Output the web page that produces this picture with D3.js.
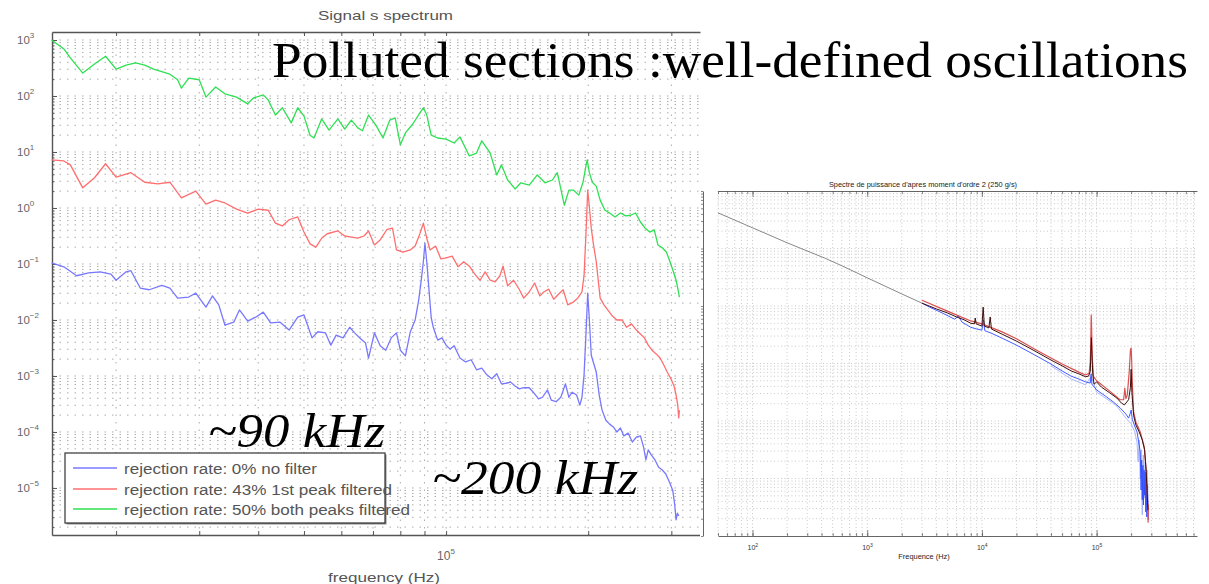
<!DOCTYPE html>
<html>
<head>
<meta charset="utf-8">
<script src="https://cdn.jsdelivr.net/npm/d3@7"></script>
<style>
  body { margin: 0; background: #fff; }
  svg { display: block; }
</style>
</head>
<body>
<svg id="slide" width="1209" height="584"></svg>
<script>
// ---------- left chart data (frequency in kHz, spectrum as log10 exponent) ----------
const greenKHz = [14.6, 15.5, 16, 17, 18, 19, 20, 21, 22, 23, 24, 26, 27, 27.5, 28.5, 30, 31, 32.5, 34, 36, 38, 39, 41, 42, 43.5, 45, 47, 48.5, 50, 51.5, 52.5, 54.5, 56.5, 59, 61, 63, 65, 66.5, 68.5, 71, 73.5, 76, 78, 80, 82, 85, 88, 89.5, 91, 93, 96, 100, 104, 107, 112, 116, 119, 124, 128, 131, 135, 140, 144, 150, 156, 162, 168, 172, 178, 182, 186, 191, 195, 198, 199, 201, 204, 208, 212, 217, 222, 228, 234, 240, 246, 252, 258, 264, 270, 276, 281, 287, 293, 298, 303, 307, 310, 312];
const greenExp = [3.00, 2.84, 2.68, 2.41, 2.57, 2.71, 2.48, 2.55, 2.59, 2.55, 2.48, 2.39, 2.29, 2.14, 2.32, 2.29, 1.98, 2.16, 2.04, 1.98, 1.86, 1.96, 2.02, 1.93, 1.66, 1.79, 1.52, 1.79, 1.64, 1.30, 1.25, 1.59, 1.39, 1.59, 1.41, 1.57, 1.43, 1.38, 1.66, 1.48, 1.25, 1.57, 1.61, 1.13, 1.34, 1.50, 1.70, 1.79, 1.66, 1.30, 1.25, 1.23, 1.16, 1.27, 0.93, 0.98, 1.20, 0.98, 0.59, 0.77, 0.50, 0.34, 0.45, 0.41, 0.59, 0.45, 0.50, 0.63, 0.05, 0.32, 0.32, 0.23, 0.46, 0.77, 0.86, 0.64, 0.46, 0.39, 0.14, -0.04, -0.09, -0.16, -0.09, -0.14, -0.13, -0.09, -0.25, -0.36, -0.43, -0.39, -0.66, -0.71, -0.79, -0.96, -1.14, -1.29, -1.46, -1.59];

const redKHz = [14.6, 15.5, 16, 17, 18, 19, 20, 21.5, 23, 24.5, 26, 27.5, 29.5, 31, 32.5, 34, 36, 38, 40, 42, 43.5, 45, 46.5, 48.5, 50, 51.5, 53, 54.5, 56, 59, 61, 63, 65, 67, 68.5, 70.5, 72.5, 75, 77, 78.5, 81, 84, 86, 88, 89.5, 91, 92.5, 95, 97.5, 100, 103, 106, 109, 112, 115, 118, 121, 124, 127, 130, 132, 135, 139, 143, 146, 150, 154, 158, 161, 165, 169, 173, 177, 181, 186, 190, 194, 196, 198, 199.5, 201, 203, 205, 208, 212, 216, 220, 225, 230, 236, 241, 247, 253, 258, 263, 268, 273, 279, 284, 289, 294, 299, 304, 307, 309.5, 311, 312];
const redExp = [0.86, 0.84, 0.77, 0.36, 0.54, 0.79, 0.55, 0.63, 0.46, 0.43, 0.46, 0.18, 0.30, 0.07, 0.14, 0.09, -0.02, -0.09, -0.02, -0.04, -0.27, -0.32, -0.21, -0.16, -0.43, -0.64, -0.70, -0.54, -0.46, -0.41, -0.50, -0.52, -0.54, -0.50, -0.41, -0.66, -0.57, -0.38, -0.36, -0.75, -0.79, -0.75, -0.68, -0.46, -0.27, -0.54, -0.75, -0.68, -0.91, -0.89, -0.86, -1.05, -0.96, -1.04, -1.18, -1.29, -1.14, -1.29, -1.32, -1.21, -1.04, -1.39, -1.29, -1.46, -1.61, -1.50, -1.34, -1.57, -1.50, -1.45, -1.63, -1.54, -1.46, -1.73, -1.68, -1.61, -1.50, -1.20, -0.39, 0.32, 0.05, -0.36, -0.63, -0.96, -1.61, -1.73, -1.82, -1.93, -2.00, -2.00, -2.13, -2.07, -2.18, -2.25, -2.32, -2.45, -2.54, -2.61, -2.68, -2.80, -2.93, -3.04, -3.18, -3.34, -3.52, -3.75, -3.61];

const blueKHz = [14.6, 15.5, 16.5, 17.5, 18.5, 19.5, 20, 21, 21.5, 22.5, 23.5, 25, 26, 27, 28.5, 29.5, 31, 32, 33, 34, 35.5, 36.5, 38, 39.5, 41, 42.5, 44.5, 46.5, 48.5, 50, 52, 53.5, 55.5, 57, 58.5, 60.5, 62.5, 64, 66, 67.5, 68.5, 70.5, 72.5, 74.5, 76.5, 78.5, 80, 82, 84, 86, 87.5, 88.5, 89.5, 90.2, 91, 92, 93, 94, 96, 98, 100, 102, 104, 107, 110, 113, 116, 119, 122, 125, 128, 131, 134, 137, 140, 143, 146, 150, 153, 157, 160, 164, 167, 171, 175, 179, 182, 185, 189, 192, 194, 196, 198, 199.5, 201, 203, 205, 208, 211, 214, 218, 222, 226, 230, 234, 238, 243, 248, 253, 258, 262, 265, 268, 272, 277, 282, 287, 292, 297, 302, 305, 307, 309, 311];
const blueExp = [-0.98, -1.05, -1.21, -1.16, -1.14, -1.18, -1.29, -1.14, -1.12, -1.43, -1.46, -1.38, -1.43, -1.61, -1.59, -1.52, -1.77, -1.57, -1.73, -2.09, -2.04, -1.82, -2.02, -1.95, -1.86, -2.05, -2.04, -2.18, -1.95, -1.91, -2.32, -2.21, -2.23, -2.45, -2.27, -2.32, -2.13, -2.23, -2.34, -2.41, -2.68, -2.23, -2.46, -2.54, -2.32, -2.23, -2.54, -2.64, -2.21, -2.00, -1.64, -1.32, -0.96, -0.63, -0.96, -1.46, -1.96, -2.14, -2.36, -2.32, -2.45, -2.52, -2.46, -2.68, -2.75, -2.71, -2.89, -2.86, -2.98, -3.05, -2.96, -3.14, -3.13, -3.11, -3.18, -3.23, -3.21, -3.21, -3.29, -3.41, -3.38, -3.25, -3.43, -3.46, -3.38, -3.14, -3.38, -3.29, -3.34, -3.52, -3.38, -2.98, -2.18, -1.52, -1.96, -2.63, -2.75, -2.93, -3.34, -3.61, -3.79, -3.86, -3.91, -4.00, -3.93, -4.07, -4.02, -4.18, -4.09, -4.07, -4.27, -4.50, -4.32, -4.41, -4.50, -4.63, -4.68, -4.75, -4.89, -5.04, -5.30, -5.57, -5.45, -5.50];

const legendLabels = ["rejection rate: 0% no filter", "rejection rate: 43% 1st peak filtered", "rejection rate: 50% both peaks filtered"];
const yDecadesLeft = [3, 2, 1, 0, -1, -2, -3, -4, -5];

// ---------- right chart data (frequency in Hz, spectrum as log10 exponent) ----------
const grayHz = [50, 100, 200, 430, 600, 1000, 2000, 3000];
const grayExp = [-6.38, -6.64, -6.90, -7.17, -7.30, -7.51, -7.79, -7.95];

const darkHz = [3000, 4000, 5000, 6000, 7000, 8000, 8600, 8750, 8900, 10000, 10250, 10500, 11500, 11800, 12100, 15000, 20000, 30000, 40000, 50000, 60000, 70000, 80000, 85000, 88000, 89500, 90000, 91000, 92500, 95000, 100000, 110000, 130000, 150000, 165000, 175000, 190000, 197000, 200000, 203000, 210000, 220000, 235000, 250000, 262000, 270000, 275000, 280000];
const darkExp = [-7.95, -8.05, -8.12, -8.19, -8.24, -8.30, -8.31, -8.21, -8.31, -8.35, -8.02, -8.35, -8.38, -8.19, -8.40, -8.49, -8.61, -8.80, -8.94, -9.04, -9.13, -9.18, -9.23, -9.22, -9.14, -8.70, -8.55, -8.85, -9.18, -9.36, -9.32, -9.41, -9.51, -9.60, -9.69, -9.72, -9.63, -9.42, -9.10, -9.50, -9.90, -10.07, -10.19, -10.33, -10.50, -10.85, -11.20, -11.55];

const redRHz = [3000, 5000, 8000, 10000, 15000, 20000, 30000, 50000, 70000, 80000, 86000, 88000, 89000, 89700, 90300, 91000, 92000, 94000, 100000, 130000, 160000, 172000, 176000, 180000, 185000, 193000, 197000, 200000, 202000, 205000, 210000, 220000, 240000, 260000, 270000, 278000, 281000, 283000];
const redRExp = [-7.90, -8.09, -8.26, -8.31, -8.45, -8.57, -8.77, -9.01, -9.15, -9.20, -9.17, -8.97, -8.59, -8.16, -8.33, -8.68, -8.97, -9.23, -9.30, -9.48, -9.63, -9.63, -9.43, -9.61, -9.55, -9.11, -8.77, -8.73, -8.94, -9.37, -9.84, -10.02, -10.19, -10.45, -10.85, -11.37, -11.76, -11.45];

const blueRHz = [3000, 3500, 4500, 5800, 6200, 6700, 8000, 9000, 10000, 10300, 10600, 12000, 15000, 20000, 30000, 40000, 50000, 60000, 70000, 80000, 88000, 89500, 91000, 100000, 120000, 140000, 160000, 180000, 190000, 197000, 200000, 205000, 215000, 225000, 235000, 240000, 244000, 247000, 250000, 253000, 256000, 259000, 262000, 265000, 268000, 271000, 274000, 277000, 280000, 282000];
const blueRExp = [-7.95, -8.02, -8.12, -8.23, -8.17, -8.28, -8.37, -8.40, -8.42, -8.24, -8.43, -8.47, -8.56, -8.68, -8.87, -9.01, -9.13, -9.22, -9.27, -9.32, -9.34, -9.18, -9.36, -9.46, -9.57, -9.67, -9.77, -9.88, -9.95, -9.86, -9.81, -9.98, -10.09, -10.19, -10.42, -10.54, -11.20, -10.68, -11.37, -10.77, -11.46, -10.85, -11.29, -10.89, -11.58, -10.99, -11.67, -11.11, -11.37, -11.72];

const lightBlueHz = [40000, 60000, 80000, 90000, 100000, 130000, 150000, 180000, 200000, 215000, 225000, 230000, 235000, 240000, 245000, 250000, 255000, 260000, 265000, 270000, 275000, 280000];
const lightBlueExp = [-9.04, -9.27, -9.37, -9.22, -9.50, -9.65, -9.74, -9.95, -10.05, -10.19, -10.37, -10.71, -10.33, -11.01, -10.50, -11.63, -10.59, -11.34, -10.71, -11.46, -10.85, -11.20];

const xDecadesRight = [2, 3, 4, 5];

const toPoints = (fs, es) => fs.map((f, i) => ({ f: f, v: 10 ** es[i] }));

const svg = d3.select("#slide");
const sans = "'Liberation Sans', Arial, sans-serif";
const serif = "'Liberation Serif', 'Times New Roman', serif";

// ================= LEFT CHART =================
const L = { left: 52, right: 700, top: 32, bottom: 535 };
const xL = d3.scaleLog().domain([14.63, 345]).range([L.left, L.right]);
const yL = d3.scaleLog().domain([10 ** -5.84, 10 ** 3.143]).range([L.bottom, L.top]);

const left = svg.append("g");

// dotted grid at every log tick
const gridL = left.append("g")
  .attr("stroke", "#ababab")
  .attr("stroke-width", 1)
  .attr("stroke-dasharray", "1.5,6");
gridL.selectAll(".hy").data(yL.ticks(20).filter(v => yL(v) < L.bottom - 1 && yL(v) > L.top + 1))
  .join("line")
  .attr("x1", L.left).attr("x2", L.right)
  .attr("y1", d => yL(d)).attr("y2", d => yL(d));
gridL.selectAll(".vx").data(xL.ticks())
  .join("line")
  .attr("x1", d => xL(d)).attr("x2", d => xL(d))
  .attr("y1", L.top).attr("y2", L.bottom);

// axes (matlab style, ticks inside)
const axisColor = "#555";
const yMajor = yDecadesLeft.map(e => 10 ** e);
left.append("g").attr("transform", `translate(${L.left},0)`)
  .call(d3.axisLeft(yL).tickValues(yMajor).tickSize(-5).tickSizeOuter(0).tickFormat(() => ""));
left.append("g").attr("transform", `translate(${L.left},0)`)
  .call(d3.axisLeft(yL).tickValues(yL.ticks(20)).tickSize(-2.5).tickSizeOuter(0).tickFormat(() => ""))
  .select(".domain").remove();
left.append("g").attr("transform", `translate(0,${L.bottom})`)
  .call(d3.axisBottom(xL).tickValues(xL.ticks()).tickSize(-4).tickSizeOuter(0).tickFormat(() => ""));
left.append("g").attr("transform", `translate(0,${L.top})`)
  .call(d3.axisTop(xL).tickValues(xL.ticks()).tickSize(-4).tickSizeOuter(0).tickFormat(() => ""));
left.selectAll(".domain").attr("stroke", axisColor).attr("stroke-width", 1.4);
left.selectAll(".tick line").attr("stroke", axisColor);

// y tick labels 10^n
const yLab = left.selectAll(".ylab").data(yDecadesLeft).join("text")
  .attr("x", 17).attr("y", e => yL(10 ** e) + 4)
  .attr("font-family", sans).attr("font-size", 11.5).attr("fill", "#666");
yLab.append("tspan").text("10");
yLab.append("tspan").attr("dy", -6).attr("font-size", 8).text(e => e < 0 ? "\u2212" + (-e) : e);

// x tick label 10^5
const xLab = left.append("text")
  .attr("x", xL(100) - 9).attr("y", 560)
  .attr("font-family", sans).attr("font-size", 12).attr("fill", "#666");
xLab.append("tspan").text("10");
xLab.append("tspan").attr("dy", -6).attr("font-size", 8).text("5");

left.append("text").attr("x", 318).attr("y", 20)
  .attr("font-family", sans).attr("font-size", 13).attr("fill", "#555")
  .attr("textLength", 135).attr("lengthAdjust", "spacingAndGlyphs")
  .text("Signal s spectrum");
left.append("text").attr("x", 328).attr("y", 582)
  .attr("font-family", sans).attr("font-size", 13).attr("fill", "#555")
  .attr("textLength", 112).attr("lengthAdjust", "spacingAndGlyphs")
  .text("frequency (Hz)");

// spectra
const lineL = d3.line().x(d => xL(d.f)).y(d => yL(d.v));
const leftSeries = [
  { pts: toPoints(blueKHz, blueExp), color: "#7878ff" },
  { pts: toPoints(redKHz, redExp), color: "#ff6e6e" },
  { pts: toPoints(greenKHz, greenExp), color: "#2ee052" }
];
left.selectAll(".spec").data(leftSeries).join("path")
  .attr("d", d => lineL(d.pts))
  .attr("fill", "none").attr("stroke", d => d.color)
  .attr("stroke-width", 1.3).attr("stroke-linejoin", "round");

// legend
const lg = left.append("g");
lg.append("rect").attr("x", 66.5).attr("y", 454.5).attr("width", 320).attr("height", 70).attr("fill", "#888");
lg.append("rect").attr("x", 65).attr("y", 453).attr("width", 320).attr("height", 70)
  .attr("fill", "#fff").attr("stroke", "#333").attr("stroke-width", 1.2);
const legendYs = [468, 489, 509];
const legendW = [193, 268, 286];
lg.selectAll(".lgl").data(leftSeries).join("line")
  .attr("x1", 73).attr("x2", 117)
  .attr("y1", (d, i) => legendYs[i]).attr("y2", (d, i) => legendYs[i])
  .attr("stroke", d => d.color).attr("stroke-width", 1.3);
lg.selectAll(".lgt").data(legendLabels).join("text")
  .attr("x", 124).attr("y", (d, i) => legendYs[i] + 6)
  .attr("font-family", sans).attr("font-size", 14).attr("fill", "#555")
  .attr("textLength", (d, i) => legendW[i]).attr("lengthAdjust", "spacingAndGlyphs")
  .text(d => d);

// ================= RIGHT CHART =================
const R = { left: 718, right: 1197, top: 191, bottom: 536 };
const right = svg.append("g");
right.append("rect").attr("x", 700).attr("y", 168).attr("width", 509).attr("height", 416).attr("fill", "#fff");

const xR = d3.scaleLog().domain([50, 7.5e5]).range([R.left, R.right]);
const yR = d3.scaleLog().domain([1e-12, 1e-6]).range([R.bottom, R.top]);

const gridR = right.append("g")
  .attr("stroke", "#bdbdbd").attr("stroke-width", 0.8).attr("stroke-dasharray", "1,2.5");
gridR.selectAll(".vx").data(xR.ticks()).join("line")
  .attr("x1", d => xR(d)).attr("x2", d => xR(d))
  .attr("y1", R.top).attr("y2", R.bottom);
gridR.selectAll(".hy").data(yR.ticks().filter(v => yR(v) < R.bottom - 1 && yR(v) > R.top + 1)).join("line")
  .attr("x1", R.left).attr("x2", R.right)
  .attr("y1", d => yR(d)).attr("y2", d => yR(d));

const xMajorR = xDecadesRight.map(e => 10 ** e);
right.append("g").attr("transform", `translate(0,${R.bottom})`)
  .call(d3.axisBottom(xR).tickValues(xR.ticks()).tickSize(-3).tickSizeOuter(0).tickFormat(() => ""));
right.append("g").attr("transform", `translate(0,${R.bottom})`)
  .call(d3.axisBottom(xR).tickValues(xMajorR).tickSize(-6).tickSizeOuter(0).tickFormat(() => ""))
  .select(".domain").remove();
right.append("g").attr("transform", `translate(0,${R.top})`)
  .call(d3.axisTop(xR).tickValues(xR.ticks()).tickSize(-3).tickSizeOuter(0).tickFormat(() => ""));
right.append("g").attr("transform", `translate(0,${R.top})`)
  .call(d3.axisTop(xR).tickValues(xMajorR).tickSize(-6).tickSizeOuter(0).tickFormat(() => ""))
  .select(".domain").remove();
// cut-off y axis strip at the left edge of the picture
right.append("g").attr("transform", "translate(703,0)")
  .call(d3.axisLeft(yR).tickValues(yR.ticks()).tickSize(2).tickSizeOuter(0).tickFormat(() => ""));
right.selectAll(".domain").attr("stroke", "#555").attr("stroke-width", 0.9);
right.selectAll(".tick line").attr("stroke", "#555").attr("stroke-width", 0.7);

const xLabR = right.selectAll(".xlab").data(xDecadesRight).join("text")
  .attr("x", e => xR(10 ** e) - 5).attr("y", 550)
  .attr("font-family", sans).attr("font-size", 7).attr("fill", "#333");
xLabR.append("tspan").text("10");
xLabR.append("tspan").attr("dy", -3).attr("font-size", 5).text(e => e);

right.append("text").attr("x", 923).attr("y", 187).attr("text-anchor", "middle")
  .attr("font-family", sans).attr("font-size", 7.4).attr("fill", "#222")
  .text("Spectre de puissance d'apres moment d'ordre 2 (250 g/s)");
right.append("text").attr("x", 924).attr("y", 559).attr("text-anchor", "middle")
  .attr("font-family", sans).attr("font-size", 7.4).attr("fill", "#222")
  .text("Frequence (Hz)");

const lineR = d3.line().x(d => xR(d.f)).y(d => yR(d.v));
const rightSeries = [
  { pts: toPoints(lightBlueHz, lightBlueExp), color: "#95a6ff", w: 0.8 },
  { pts: toPoints(blueRHz, blueRExp), color: "#2f4cff", w: 0.9 },
  { pts: toPoints(redRHz, redRExp), color: "#d9504f", w: 1.2 },
  { pts: toPoints(darkHz, darkExp), color: "#3d0f0f", w: 1.0 },
  { pts: toPoints(grayHz, grayExp), color: "#7a7a7a", w: 0.9 }
];
right.selectAll(".spec").data(rightSeries).join("path")
  .attr("d", d => lineR(d.pts))
  .attr("fill", "none").attr("stroke", d => d.color)
  .attr("stroke-width", d => d.w).attr("stroke-linejoin", "round");

// ================= SLIDE TEXT =================
svg.append("text").attr("x", 272).attr("y", 77)
  .attr("font-family", serif).attr("font-size", 50).attr("fill", "#000")
  .attr("textLength", 916).attr("lengthAdjust", "spacingAndGlyphs")
  .text("Polluted sections :well-defined oscillations");
svg.append("text").attr("x", 208).attr("y", 447)
  .attr("font-family", serif).attr("font-style", "italic").attr("font-size", 48).attr("fill", "#000")
  .attr("textLength", 177).attr("lengthAdjust", "spacingAndGlyphs")
  .text("~90 kHz");
svg.append("text").attr("x", 432).attr("y", 494)
  .attr("font-family", serif).attr("font-style", "italic").attr("font-size", 48).attr("fill", "#000")
  .attr("textLength", 206).attr("lengthAdjust", "spacingAndGlyphs")
  .text("~200 kHz");
</script>
</body>
</html>
